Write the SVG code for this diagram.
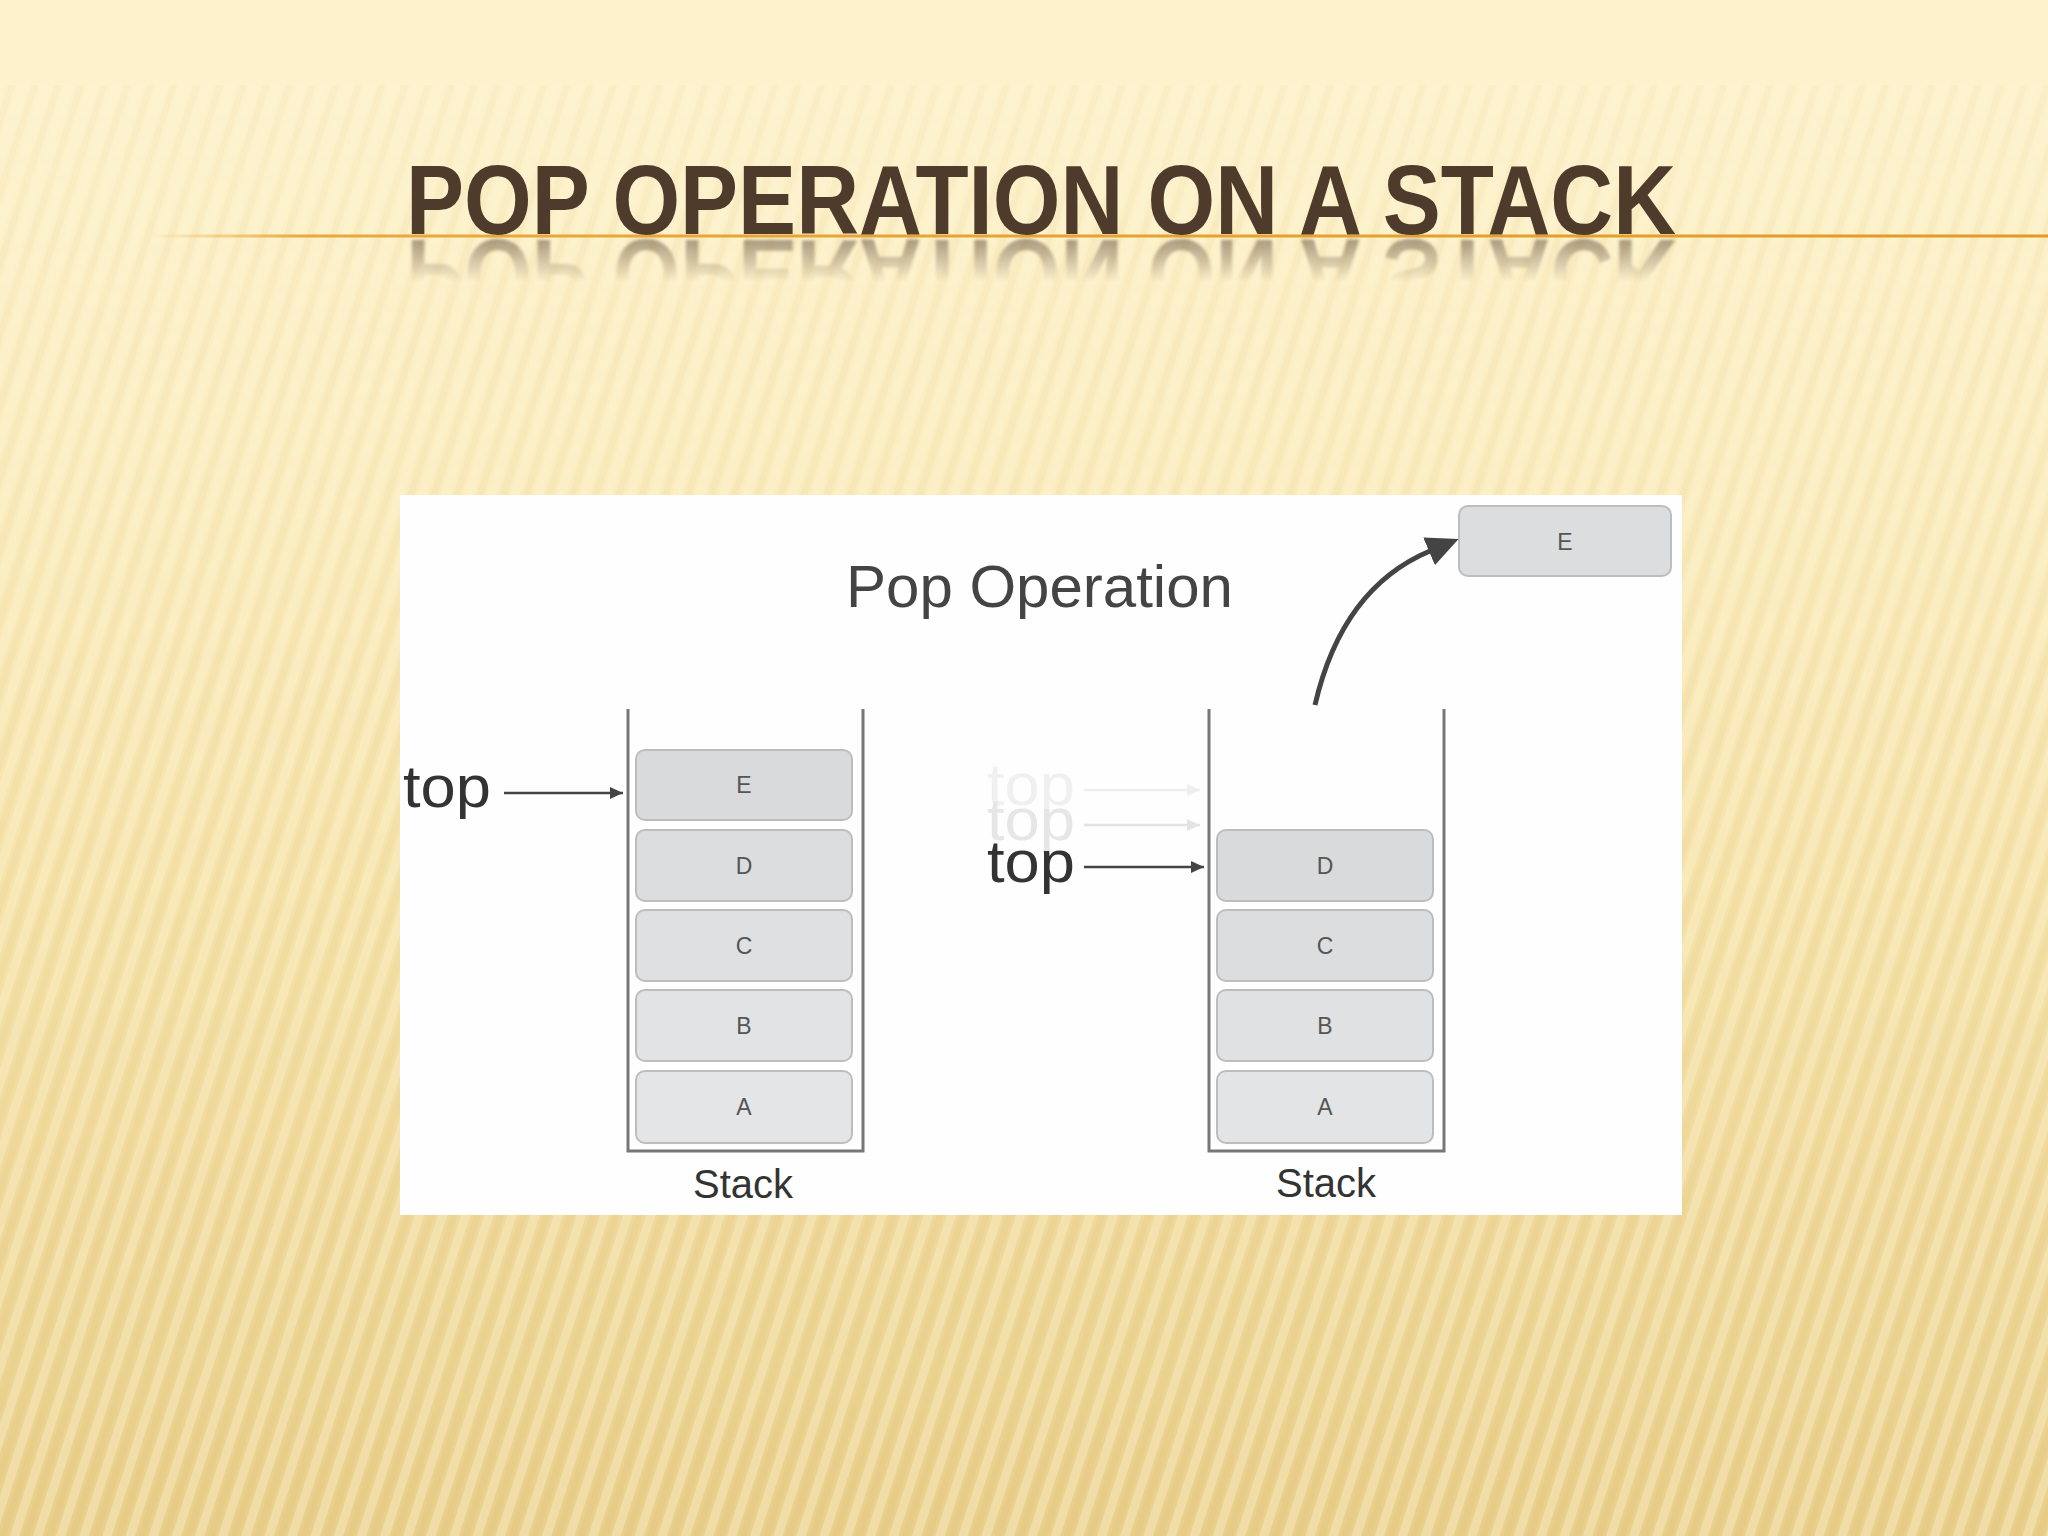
<svg xmlns="http://www.w3.org/2000/svg" width="2048" height="1536" viewBox="0 0 2048 1536">
  <defs>
    <linearGradient id="bg" x1="0" y1="0" x2="0" y2="1">
      <stop offset="0" stop-color="#fdf3cf"/>
      <stop offset="0.3" stop-color="#fbedc0"/>
      <stop offset="0.6" stop-color="#f5e2a8"/>
      <stop offset="1" stop-color="#e9cf8b"/>
    </linearGradient>
    <pattern id="stripes" width="22" height="22" patternUnits="userSpaceOnUse" patternTransform="rotate(18)">
      <rect x="0" y="0" width="9" height="22" fill="#fff9e0" fill-opacity="0.32"/>
      <rect x="12" y="0" width="7" height="22" fill="#c9a554" fill-opacity="0.08"/>
    </pattern>
    <linearGradient id="stripeFade" gradientUnits="userSpaceOnUse" x1="0" y1="85" x2="0" y2="1536">
      <stop offset="0" stop-color="#fff" stop-opacity="0.55"/>
      <stop offset="0.3" stop-color="#fff" stop-opacity="0.8"/>
      <stop offset="1" stop-color="#fff" stop-opacity="1"/>
    </linearGradient>
    <mask id="stripeMask" maskUnits="userSpaceOnUse" x="0" y="0" width="2048" height="1536">
      <rect x="0" y="85" width="2048" height="1451" fill="url(#stripeFade)"/>
    </mask>
    <linearGradient id="rule" gradientUnits="userSpaceOnUse" x1="150" y1="0" x2="2048" y2="0">
      <stop offset="0" stop-color="#eaa52c" stop-opacity="0"/>
      <stop offset="0.08" stop-color="#e9a12a" stop-opacity="0.9"/>
      <stop offset="1" stop-color="#e39a22"/>
    </linearGradient>
    <linearGradient id="reflFade" gradientUnits="userSpaceOnUse" x1="0" y1="237" x2="0" y2="282">
      <stop offset="0" stop-color="#fff" stop-opacity="0.5"/>
      <stop offset="1" stop-color="#fff" stop-opacity="0"/>
    </linearGradient>
    <mask id="reflMask" maskUnits="userSpaceOnUse" x="0" y="0" width="2048" height="1536">
      <rect x="0" y="237" width="2048" height="50" fill="url(#reflFade)"/>
    </mask>
    <filter id="soft" x="-5%" y="-20%" width="110%" height="140%">
      <feGaussianBlur stdDeviation="1.6"/>
    </filter>
    <marker id="arrSmall" markerUnits="userSpaceOnUse" markerWidth="14" markerHeight="12" refX="13" refY="6" orient="auto">
      <path d="M0,0 L13,6 L0,12 z" fill="#444"/>
    </marker>
    <marker id="arrGhost1" markerUnits="userSpaceOnUse" markerWidth="14" markerHeight="12" refX="13" refY="6" orient="auto">
      <path d="M0,0 L13,6 L0,12 z" fill="#eeeeee"/>
    </marker>
    <marker id="arrGhost2" markerUnits="userSpaceOnUse" markerWidth="14" markerHeight="12" refX="13" refY="6" orient="auto">
      <path d="M0,0 L13,6 L0,12 z" fill="#e3e3e3"/>
    </marker>
    <marker id="arrBig" markerUnits="userSpaceOnUse" markerWidth="34" markerHeight="30" refX="1" refY="15" orient="auto">
      <path d="M0,0 L32,15 L0,30 z" fill="#444"/>
    </marker>
  </defs>
  <style>
    .box { stroke: #bdbdbd; stroke-width: 2; }
    .lbl { font-family: "Liberation Sans", Arial, sans-serif; font-size: 23px; fill: #555; text-anchor: middle; }
    .wall { fill: none; stroke: #777; stroke-width: 3; }
    .top { font-family: "Liberation Sans", Arial, sans-serif; font-size: 60px; }
    .cap { font-family: "Liberation Sans", Arial, sans-serif; font-size: 40px; fill: #333; text-anchor: middle; }
    .ttl { font-family: "Liberation Sans", Arial, sans-serif; font-size: 98px; font-weight: bold; fill: #4f3b2b; }
  </style>

  <!-- background -->
  <rect x="0" y="0" width="2048" height="1536" fill="url(#bg)"/>
  <rect x="0" y="0" width="2048" height="1536" fill="url(#stripes)" mask="url(#stripeMask)"/>
  <rect x="0" y="0" width="2048" height="85" fill="#fdf2cc"/>

  <!-- title -->
  <g id="title">
    <line x1="150" y1="236" x2="2048" y2="236" stroke="url(#rule)" stroke-width="3"/>
    <text class="ttl" x="406" y="234" textLength="1270" lengthAdjust="spacingAndGlyphs">POP OPERATION ON A STACK</text>
    <g mask="url(#reflMask)" aria-hidden="true">
      <g filter="url(#soft)">
        <text class="ttl" x="406" y="234" transform="translate(0,474) scale(1,-1)" textLength="1270" lengthAdjust="spacingAndGlyphs">POP OPERATION ON A STACK</text>
      </g>
    </g>
  </g>

  <!-- panel -->
  <rect id="panel" x="400" y="495" width="1282" height="720" fill="#fefefe"/>

  <text id="heading" x="846" y="607" font-family="'Liberation Sans', Arial, sans-serif" font-size="60" fill="#444">Pop Operation</text>

  <!-- left stack -->
  <g id="stack-left">
    <path class="wall" d="M628,709 V1151 H863 V709"/>
    <text class="cap" x="743" y="1198">Stack</text>
  </g>
  <g id="L-E"><rect class="box" x="636" y="750" width="216" height="70" rx="9" fill="#d9dadc"/><text class="lbl" x="744" y="793">E</text></g>
  <g id="L-D"><rect class="box" x="636" y="830" width="216" height="71" rx="9" fill="#dcdddf"/><text class="lbl" x="744" y="874">D</text></g>
  <g id="L-C"><rect class="box" x="636" y="910" width="216" height="71" rx="9" fill="#dfe0e2"/><text class="lbl" x="744" y="954">C</text></g>
  <g id="L-B"><rect class="box" x="636" y="990" width="216" height="71" rx="9" fill="#e2e3e5"/><text class="lbl" x="744" y="1034">B</text></g>
  <g id="L-A"><rect class="box" x="636" y="1071" width="216" height="72" rx="9" fill="#e4e5e7"/><text class="lbl" x="744" y="1115">A</text></g>
  <g id="L-top"><text class="top" x="403" y="807" fill="#333" textLength="88" lengthAdjust="spacingAndGlyphs">top</text></g>

  <!-- right stack -->
  <g id="stack-right">
    <path class="wall" d="M1209,709 V1151 H1444 V709"/>
    <text class="cap" x="1326" y="1197">Stack</text>
  </g>
  <g id="R-D"><rect class="box" x="1217" y="830" width="216" height="71" rx="9" fill="#d9dadc"/><text class="lbl" x="1325" y="874">D</text></g>
  <g id="R-C"><rect class="box" x="1217" y="910" width="216" height="71" rx="9" fill="#dcdddf"/><text class="lbl" x="1325" y="954">C</text></g>
  <g id="R-B"><rect class="box" x="1217" y="990" width="216" height="71" rx="9" fill="#e0e1e3"/><text class="lbl" x="1325" y="1034">B</text></g>
  <g id="R-A"><rect class="box" x="1217" y="1071" width="216" height="72" rx="9" fill="#e3e4e6"/><text class="lbl" x="1325" y="1115">A</text></g>
  <g id="R-top-ghost1"><text class="top" x="987" y="805" fill="#f0f0f0" textLength="88" lengthAdjust="spacingAndGlyphs">top</text></g>
  <g id="R-top-ghost2"><text class="top" x="987" y="840" fill="#e6e6e6" textLength="88" lengthAdjust="spacingAndGlyphs">top</text></g>
  <g id="R-top"><text class="top" x="987" y="882" fill="#333" textLength="88" lengthAdjust="spacingAndGlyphs">top</text></g>

  <!-- popped element -->
  <g id="popped-E"><rect class="box" x="1459" y="506" width="212" height="70" rx="9" fill="#dcdddf"/><text class="lbl" x="1565" y="550">E</text></g>

  <!-- connectors -->
  <g id="connectors" fill="none">
    <line x1="504" y1="793" x2="623" y2="793" stroke="#444" stroke-width="2.5" marker-end="url(#arrSmall)"/>
    <line x1="1084" y1="790" x2="1200" y2="790" stroke="#eeeeee" stroke-width="2.5" marker-end="url(#arrGhost1)"/>
    <line x1="1084" y1="825" x2="1200" y2="825" stroke="#e3e3e3" stroke-width="2.5" marker-end="url(#arrGhost2)"/>
    <line x1="1084" y1="867" x2="1204" y2="867" stroke="#444" stroke-width="2.5" marker-end="url(#arrSmall)"/>
    <path d="M1315,705 Q1342,588 1430,551" stroke="#444" stroke-width="5" marker-end="url(#arrBig)"/>
  </g>
</svg>
